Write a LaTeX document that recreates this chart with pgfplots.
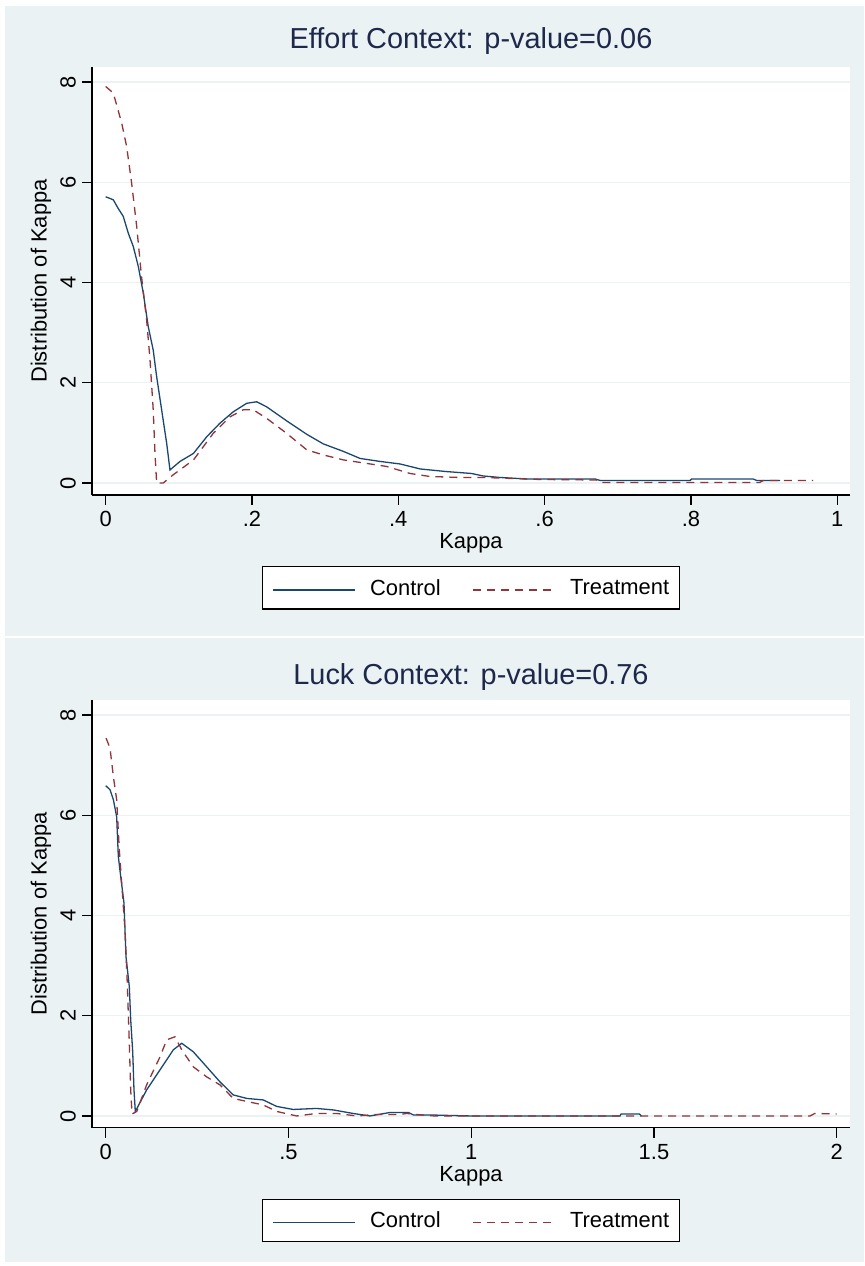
\documentclass[border=0pt]{standalone}
\usepackage{pgfplots}
\pgfplotsset{compat=1.18}
\usepackage{fontspec}
\setmainfont{Liberation Sans}
\definecolor{bgc}{RGB}{234,242,243}
\definecolor{gridc}{RGB}{234,242,243}
\definecolor{navyc}{RGB}{26,71,111}
\definecolor{maroonc}{RGB}{144,53,59}
\definecolor{titlec}{RGB}{30,40,75}

\pgfplotsset{stata/.style={
  scale only axis, width=758bp,
  axis x line*=bottom, axis y line*=left,
  axis line style={black, line width=1.3bp, -},
  axis background/.style={fill=white},
  tick align=outside, major tick length=10bp,
  every tick/.style={black, line width=1.3bp},
  ytick={0,2,4,6,8}, yticklabels={0,2,4,6,8},
  ymajorgrids, major grid style={gridc, line width=1.3bp},
  tick label style={font=\fontsize{22}{24}\selectfont, black},
  yticklabel style={xshift=-6.5bp, rotate=90, anchor=base},
  xticklabel style={anchor=base, yshift=-22bp},
  xlabel={Kappa}, ylabel={Distribution of Kappa},
  every axis x label/.style={at={(axis description cs:0.5,0)}, anchor=base, yshift=-54bp, font=\fontsize{22}{24}\selectfont, black},
  every axis y label/.style={at={(axis description cs:-0.0673,0.5)}, anchor=center, rotate=90, font=\fontsize{22}{24}\selectfont, black},
  title style={font=\fontsize{29}{32}\selectfont, color=titlec, anchor=base, at={(axis description cs:0.5,1)}},
  legend style={at={(axis description cs:0.5,-0.166)}, anchor=north, legend columns=2,
    draw=black, line width=1.3bp, fill=white, text=black,
    font=\fontsize{22}{24}\selectfont,
    inner xsep=10.5bp, inner ysep=12.5bp, nodes={inner sep=0pt},
    /tikz/every odd column/.append style={column sep=14bp},
    /tikz/every even column/.append style={column sep=32bp}},
  legend image code/.code={\draw[#1] (0bp,-2bp) -- (82bp,-2bp);},
  ctrl/.style={navyc, line width=1.3bp, solid},
  trt/.style={maroonc, line width=1.3bp, dash pattern=on 8bp off 6bp},
}}

\begin{document}
\begin{tikzpicture}
\path[use as bounding box] (0,0) rectangle (865bp,1266bp);
\fill[white] (0,0) rectangle (865bp,1266bp);
\fill[bgc] (5bp,630bp) rectangle (864bp,1260bp);
\fill[bgc] (5bp,4bp) rectangle (864bp,628bp);

\begin{axis}[stata, at={(92bp,771bp)}, anchor=south west, height=428bp,
  xmin=-0.0187, xmax=1.0175, ymin=-0.2395, ymax=8.2994,
  xtick={0,0.2,0.4,0.6,0.8,1}, xticklabels={0,.2,.4,.6,.8,1},
  title={Effort Context: p-value=0.06}, title style={yshift=12.7bp}]
\addplot[ctrl] coordinates {(0,5.71) (0.0104,5.65) (0.017,5.48) (0.024,5.32) (0.031,4.98) (0.0377,4.72) (0.0446,4.32) (0.0514,3.79) (0.0582,3.12) (0.065,2.65) (0.0697,2.12) (0.0765,1.46) (0.0834,0.79) (0.0879,0.26) (0.1016,0.43) (0.12,0.59) (0.138,0.92) (0.156,1.19) (0.1744,1.42) (0.1928,1.59) (0.2064,1.62) (0.22,1.52) (0.2474,1.24) (0.275,0.97) (0.2975,0.78) (0.325,0.63) (0.3477,0.49) (0.375,0.43) (0.4023,0.38) (0.43,0.28) (0.464,0.23) (0.50,0.19) (0.516,0.14) (0.539,0.11) (0.5755,0.08) (0.669,0.08) (0.676,0.05) (0.799,0.05) (0.801,0.08) (0.885,0.08) (0.89,0.05) (0.922,0.05)};
\addlegendentry{Control}
\addplot[trt] coordinates {(0,7.91) (0.0104,7.78) (0.0219,7.18) (0.0287,6.71) (0.0355,5.98) (0.0424,5.12) (0.049,4.12) (0.056,3.25) (0.0606,2.46) (0.065,1.46) (0.0674,0.59) (0.0697,0.0) (0.0787,0.0) (0.092,0.16) (0.12,0.46) (0.147,0.99) (0.17,1.32) (0.188,1.46) (0.2018,1.46) (0.22,1.29) (0.2474,0.99) (0.275,0.66) (0.2975,0.56) (0.325,0.46) (0.357,0.39) (0.384,0.33) (0.4023,0.25) (0.416,0.19) (0.443,0.13) (0.484,0.11) (0.516,0.11) (0.594,0.07) (0.671,0.06) (0.676,0.01) (0.894,0.01) (0.899,0.05) (0.967,0.05)};
\addlegendentry{Treatment}
\end{axis}

\begin{axis}[stata, at={(92bp,138.3bp)}, anchor=south west, height=427.7bp,
  xmin=-0.0375, xmax=2.0364, ymin=-0.234, ymax=8.3,
  xtick={0,0.5,1,1.5,2}, xticklabels={0,.5,1,1.5,2},
  title={Luck Context: p-value=0.76}, title style={yshift=10bp}]
\addplot[ctrl] coordinates {(0,6.59) (0.0118,6.51) (0.021,6.31) (0.030,5.97) (0.0345,5.18) (0.041,4.78) (0.050,4.25) (0.0555,3.18) (0.0646,2.58) (0.0684,1.92) (0.0739,1.28) (0.0774,0.52) (0.081,0.09) (0.112,0.52) (0.1486,0.92) (0.185,1.32) (0.208,1.45) (0.2397,1.28) (0.2763,0.98) (0.3127,0.68) (0.349,0.42) (0.386,0.35) (0.431,0.32) (0.468,0.19) (0.513,0.13) (0.577,0.15) (0.623,0.12) (0.677,0.05) (0.723,0.0) (0.778,0.07) (0.828,0.07) (0.842,0.02) (0.887,0.02) (1.0,0.0) (1.407,0.0) (1.41,0.04) (1.46,0.04) (1.466,0.0)};
\addlegendentry{Control}
\addplot[trt] coordinates {(0.001,7.54) (0.0118,7.34) (0.021,6.77) (0.030,6.31) (0.0372,5.31) (0.0438,4.64) (0.0528,3.71) (0.059,2.65) (0.0646,1.45) (0.0684,0.52) (0.072,0.04) (0.085,0.09) (0.112,0.62) (0.1486,1.18) (0.1669,1.52) (0.1896,1.58) (0.208,1.32) (0.2397,0.98) (0.2763,0.78) (0.3127,0.62) (0.349,0.35) (0.386,0.29) (0.431,0.22) (0.468,0.09) (0.5226,0.0) (0.577,0.05) (0.632,0.05) (0.687,0.0) (0.74,0.03) (0.805,0.03) (0.823,0.05) (0.85,0.03) (0.9,0.0) (1.927,0.0) (1.94,0.05) (2.0,0.04)};
\addlegendentry{Treatment}
\end{axis}
\end{tikzpicture}
\end{document}
